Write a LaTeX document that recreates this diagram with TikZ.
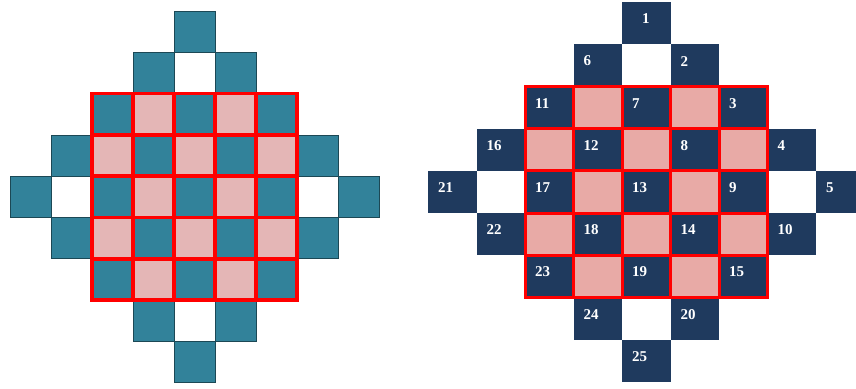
\documentclass[tikz,border=0pt]{standalone}
\usepackage{fontspec}
\setmainfont{Liberation Serif}
\definecolor{tealcell}{RGB}{50,130,154}
\definecolor{pinkcell}{RGB}{228,182,182}
\definecolor{navycell}{RGB}{31,58,94}
\definecolor{salmoncell}{RGB}{232,170,166}

\begin{document}
\begin{tikzpicture}[x=1pt,y=-1pt,
    tealbox/.style={fill=tealcell, draw=tealcell!55!black, line width=0.8pt},
    pinkbox/.style={fill=pinkcell},
    navybox/.style={fill=navycell},
    salmonbox/.style={fill=salmoncell},
    redline/.style={draw=red, line width=3.5pt, line cap=rect},
    numlabel/.style={text=white, font=\bfseries\fontsize{15}{15}\selectfont, anchor=west, inner sep=0pt}]
    \useasboundingbox (0,0) rectangle (856,388);
    % Left diamond: cell 41 x 41.3, origin (10,11)
    \def\lw{41}\def\lh{41.3}\def\lx{10}\def\ly{11}
    \foreach \r in {0,...,8}{
        \foreach \c in {0,...,8}{
            \pgfmathtruncatemacro{\d}{abs(\r-4)+abs(\c-4)}
            \pgfmathtruncatemacro{\p}{mod(\r+\c,2)}
            \pgfmathtruncatemacro{\ins}{(abs(\r-4)<3)&&(abs(\c-4)<3)}
            \ifnum\d<5
                \ifnum\p=0
                    \draw[tealbox] (\lx+\c*\lw,\ly+\r*\lh) rectangle ++(\lw,\lh);
                \else\ifnum\ins=1
                    \fill[pinkbox] (\lx+\c*\lw,\ly+\r*\lh) rectangle ++(\lw,\lh);
                \fi\fi
            \fi
        }
    }
    % Red grid over the inner 5 x 5 block
    \foreach \k in {0,...,5}{
        \draw[redline] (\lx+2*\lw+\k*\lw,\ly+2*\lh) -- ++(0,5*\lh);
        \draw[redline] (\lx+2*\lw,\ly+2*\lh+\k*\lh) -- ++(5*\lw,0);
    }
    % Right diamond: cell 48.5 x 42.2, origin (428,2)
    \def\rw{48.5}\def\rh{42.2}\def\rx{428}\def\ry{2}
    \foreach \r in {0,...,8}{
        \foreach \c in {0,...,8}{
            \pgfmathtruncatemacro{\d}{abs(\r-4)+abs(\c-4)}
            \pgfmathtruncatemacro{\p}{mod(\r+\c,2)}
            \pgfmathtruncatemacro{\ins}{(abs(\r-4)<3)&&(abs(\c-4)<3)}
            \ifnum\d<5
                \ifnum\p=0
                    \fill[navybox] (\rx+\c*\rw,\ry+\r*\rh) rectangle ++(\rw,\rh);
                    \pgfmathtruncatemacro{\n}{5*(\r-\c+4)/2+(\r+\c-4)/2+1}
                    \pgfmathsetmacro{\dx}{\n==1 ? 20 : 10}
                    \node[numlabel] (cell\n) at (\rx+\c*\rw+\dx,\ry+\r*\rh+0.4*\rh) {\n};
                \else\ifnum\ins=1
                    \fill[salmonbox] (\rx+\c*\rw,\ry+\r*\rh) rectangle ++(\rw,\rh);
                \fi\fi
            \fi
        }
    }
    \foreach \k in {0,...,5}{
        \draw[redline, line width=3pt] (\rx+2*\rw+\k*\rw,\ry+2*\rh) -- ++(0,5*\rh);
        \draw[redline, line width=3pt] (\rx+2*\rw,\ry+2*\rh+\k*\rh) -- ++(5*\rw,0);
    }
\end{tikzpicture}
\end{document}
